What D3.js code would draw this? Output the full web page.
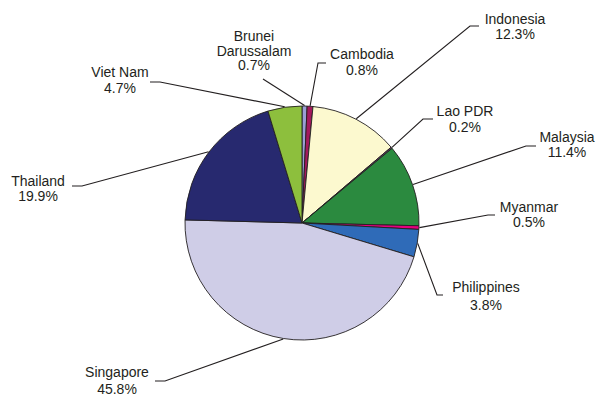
<!DOCTYPE html>
<html>
<head>
<meta charset="utf-8">
<script src="https://cdn.jsdelivr.net/npm/d3@7"></script>
<style>
html,body{margin:0;padding:0;background:#fff;}
svg{display:block;}
text{font-family:"Liberation Sans",Arial,Helvetica,sans-serif;font-size:14px;fill:#231f20;}
</style>
</head>
<body>
<svg id="chart" width="595" height="397"></svg>
<script>
// ---- data ----
const countries = ["Brunei Darussalam","Cambodia","Indonesia","Lao PDR","Malaysia","Myanmar","Philippines","Singapore","Thailand","Viet Nam"];
const labelLines = [["Brunei","Darussalam","0.7%"],["Cambodia","0.8%"],["Indonesia","12.3%"],["Lao PDR","0.2%"],["Malaysia","11.4%"],["Myanmar","0.5%"],["Philippines","3.8%"],["Singapore","45.8%"],["Thailand","19.9%"],["Viet Nam","4.7%"]];
const shares = [0.7,0.8,12.3,0.2,11.4,0.5,3.8,45.8,19.9,4.7];
const colors = ["#9a9fd4","#a4195c","#fcf9cf","#5a3a5e","#2b8a3f","#e5007e","#2f6bb8","#cfcde7","#27296f","#8dbf3d"];

// ---- layout (label anchor: text centre x, first baseline y, line gap; leader elbow & end) ----
const labelPos = [
  {x:254,y:41,gap:14.7,elbow:[263,79],end:null},
  {x:362,y:59,gap:16,elbow:[318,63],end:[326,63]},
  {x:515,y:23.5,gap:15.5,elbow:[470,26],end:[479,26]},
  {x:465,y:116,gap:15.7,elbow:[423,119],end:[433,119]},
  {x:567,y:141.5,gap:15.5,elbow:[526,146],end:[536,146]},
  {x:529,y:211.5,gap:15.2,elbow:[488,215],end:[495,215]},
  {x:486,y:291.5,gap:18.3,elbow:[437,295],end:[443,295]},
  {x:117,y:377,gap:17.3,elbow:[165,381],end:[155,381]},
  {x:38,y:186,gap:14.8,elbow:[82,186],end:[72,186]},
  {x:120,y:77.3,gap:16,elbow:[160,82],end:[150,82]}
];

const cx = 302, cy = 223, R = 117;
const svg = d3.select("#chart");
const g = svg.append("g").attr("transform", `translate(${cx},${cy})`);

const pie = d3.pie().value(d => d).sort(null).startAngle(0).endAngle(2*Math.PI);
const arcs = pie(shares);
const arc = d3.arc().innerRadius(0).outerRadius(R);
const edgeArc = d3.arc().innerRadius(R + 0.5).outerRadius(R + 0.5);

g.selectAll("path.slice").data(arcs).enter().append("path")
  .attr("class","slice")
  .attr("d", arc)
  .attr("fill", (d,i) => colors[i])
  .attr("stroke", "#231f20")
  .attr("stroke-width", 0.9)
  .attr("stroke-linejoin","round");

// leader lines
const line = d3.line();
arcs.forEach((d,i) => {
  const c = edgeArc.centroid(d);
  const p0 = [c[0] + cx, c[1] + cy];
  const L = labelPos[i];
  const pts = [p0, L.elbow];
  if (L.end) pts.push(L.end);
  svg.append("path")
    .attr("d", line(pts))
    .attr("fill","none")
    .attr("stroke","#231f20")
    .attr("stroke-width",1.1);
});

// labels
labelLines.forEach((lines,i) => {
  const L = labelPos[i];
  const t = svg.append("text").attr("text-anchor","middle");
  lines.forEach((s,j) => {
    t.append("tspan").attr("x", L.x).attr("y", L.y + j*L.gap).text(s);
  });
});
</script>
</body>
</html>
